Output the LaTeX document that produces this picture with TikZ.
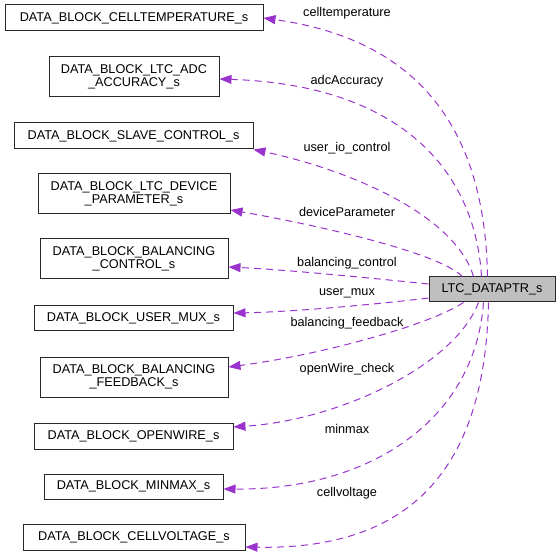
\documentclass[tikz,border=0pt]{standalone}
\usepackage{fontspec}
\setmainfont{Liberation Sans}
\usetikzlibrary{arrows.meta,calc}
\definecolor{edgecol}{RGB}{154,50,205}
\definecolor{ltcfill}{RGB}{191,191,191}
\definecolor{boxline}{RGB}{40,40,40}
\tikzset{
  box/.style={draw=boxline,line width=1pt,fill=white,inner sep=0pt,align=center,font=\fontsize{12.7}{13.5}\selectfont},
  edge/.style={draw=edgecol,line width=1pt,dash pattern=on 7pt off 5pt,-{Triangle[length=12pt,width=9pt,fill=edgecol]}},
  lbl/.style={font=\fontsize{12.7}{13.5}\selectfont,inner sep=0pt}
}
\begin{document}
\begin{tikzpicture}[x=1pt,y=-1pt]
\useasboundingbox (0,0) rectangle (560,556);
% nodes
\node[box,minimum width=258pt,minimum height=26pt] (ct) at (134,18) {DATA\_BLOCK\_CELLTEMPERATURE\_s};
\node[box,minimum width=170pt,minimum height=40pt] (adc) at (134,77) {DATA\_BLOCK\_LTC\_ADC\\\_ACCURACY\_s};
\node[box,minimum width=239pt,minimum height=26pt] (slave) at (133.5,136) {DATA\_BLOCK\_SLAVE\_CONTROL\_s};
\node[box,minimum width=192pt,minimum height=40pt] (dev) at (134,194) {DATA\_BLOCK\_LTC\_DEVICE\\\_PARAMETER\_s};
\node[box,minimum width=188pt,minimum height=40pt] (balc) at (134,259) {DATA\_BLOCK\_BALANCING\\\_CONTROL\_s};
\node[box,minimum width=199pt,minimum height=25pt] (mux) at (133.5,318.5) {DATA\_BLOCK\_USER\_MUX\_s};
\node[box,minimum width=188pt,minimum height=40pt] (balf) at (134,377) {DATA\_BLOCK\_BALANCING\\\_FEEDBACK\_s};
\node[box,minimum width=199pt,minimum height=26pt] (ow) at (133.5,436) {DATA\_BLOCK\_OPENWIRE\_s};
\node[box,minimum width=179pt,minimum height=25pt] (mm) at (133.5,486.5) {DATA\_BLOCK\_MINMAX\_s};
\node[box,minimum width=222pt,minimum height=26pt] (cv) at (134,537) {DATA\_BLOCK\_CELLVOLTAGE\_s};
\node[box,fill=ltcfill,minimum width=126pt,minimum height=25pt] (ltc) at (492,289.5) {LTC\_DATAPTR\_s};
% edges
\draw[edge] ([xshift=59pt]ltc.north west) .. controls (485,130) and (420,40) .. (ct.east);
\draw[edge] ([xshift=53pt]ltc.north west) .. controls (475,170) and (400,85) .. ([yshift=-2pt]adc.east);
\draw[edge] ([xshift=45pt]ltc.north west) .. controls (455,215) and (350,170) .. (slave.south east);
\draw[edge] ([xshift=34pt]ltc.north west) .. controls (435,250) and (300,222) .. ([yshift=-16pt]dev.east);
\draw[edge] ([yshift=5.5pt]ltc.west) .. controls (370,278) and (290,270) .. ([yshift=-8pt]balc.east);
\draw[edge] ([yshift=-8.5pt]ltc.west) .. controls (370,305) and (290,312) .. ([yshift=5.5pt]mux.east);
\draw[edge] ([xshift=35pt]ltc.south west) .. controls (430,325) and (320,355) .. ([yshift=10pt]balf.east);
\draw[edge] ([xshift=50pt]ltc.south west) .. controls (455,365) and (340,420) .. ([yshift=9pt]ow.east);
\draw[edge] ([xshift=55pt]ltc.south west) .. controls (475,420) and (370,490) .. ([yshift=-2.5pt]mm.east);
\draw[edge] ([xshift=60pt]ltc.south west) .. controls (485,470) and (410,550) .. ([yshift=-10pt]cv.east);
% labels
\node[lbl] (l1) at (347,13) {celltemperature};
\node[lbl] (l2) at (347,81) {adcAccuracy};
\node[lbl] (l3) at (347,148) {user\_io\_control};
\node[lbl] (l4) at (347,212) {deviceParameter};
\node[lbl] (l5) at (347,263) {balancing\_control};
\node[lbl] (l6) at (347,293) {user\_mux};
\node[lbl] (l7) at (347,323) {balancing\_feedback};
\node[lbl] (l8) at (347,369) {openWire\_check};
\node[lbl] (l9) at (347,429) {minmax};
\node[lbl] (l10) at (347,493) {cellvoltage};
\end{tikzpicture}
\end{document}
